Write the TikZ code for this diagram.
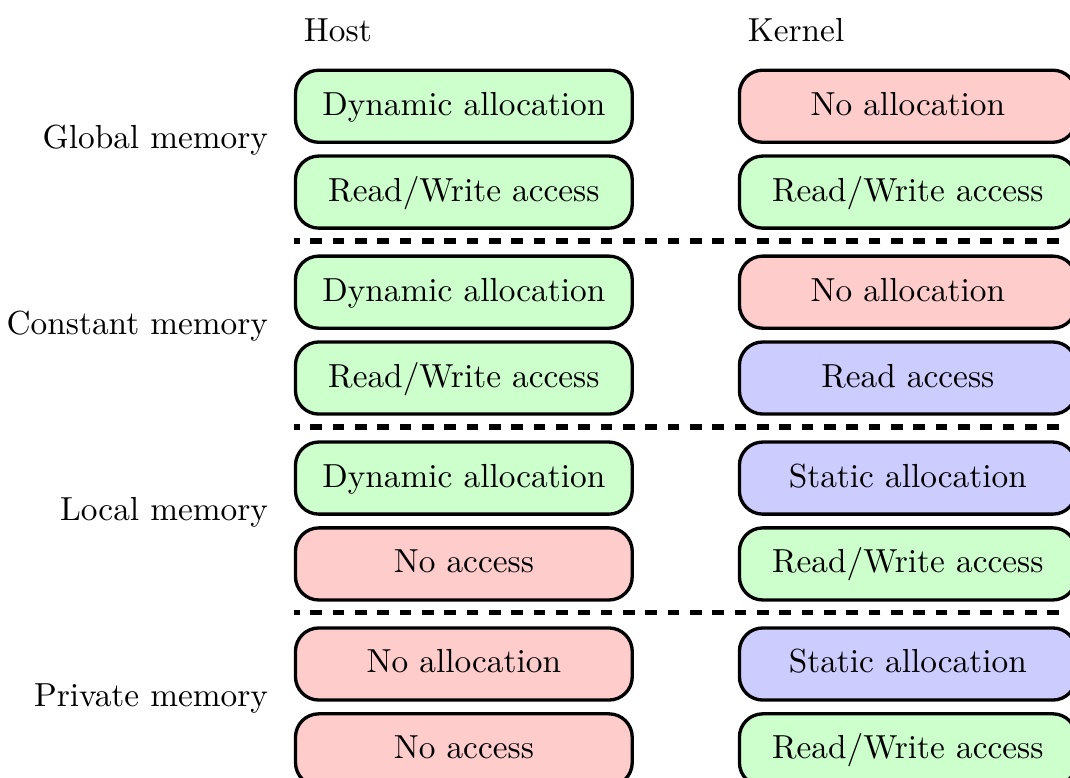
\documentclass[tikz,border=0pt]{standalone}
\usetikzlibrary{positioning}

\tikzset{
    memcell/.style={draw, line width=1pt, rounded corners=7pt, minimum width=3.55cm, minimum height=0.76cm,
        text height=1.5ex, text depth=.25ex},
    okcell/.style={memcell, fill=green!20},
    nocell/.style={memcell, fill=red!20},
    rocell/.style={memcell, fill=blue!20},
    sep/.style={ultra thick, dash pattern=on 3.5pt off 3.2pt},
}

\begin{document}
\begin{tikzpicture}
    \useasboundingbox (0,0) rectangle (11.28,-8.20);

    \node[anchor=base west] (host) at (3.08,-0.44) {Host};
    \node[anchor=base west] (kernel) at (7.76,-0.44) {Kernel};

    % global memory
    \node[anchor=east] (global) at (2.95,-1.48) {Global memory};
    \node[okcell] (h1a) at (4.89,-1.12) {Dynamic allocation};
    \node[okcell, below=0.11cm of h1a] (h1b) {Read/Write access};
    \node[nocell] (k1a) at (9.57,-1.12) {No allocation};
    \node[okcell, below=0.11cm of k1a] (k1b) {Read/Write access};

    \draw[sep] (11.40,-2.54) -- (3.10,-2.54);

    % constant memory
    \node[anchor=east] (constant) at (2.95,-3.44) {Constant memory};
    \node[okcell] (h2a) at (4.89,-3.08) {Dynamic allocation};
    \node[okcell, below=0.11cm of h2a] (h2b) {Read/Write access};
    \node[nocell] (k2a) at (9.57,-3.08) {No allocation};
    \node[rocell, below=0.11cm of k2a] (k2b) {Read access};

    \draw[sep] (11.40,-4.50) -- (3.10,-4.50);

    % local memory
    \node[anchor=east] (local) at (2.95,-5.40) {Local memory};
    \node[okcell] (h3a) at (4.89,-5.04) {Dynamic allocation};
    \node[nocell, below=0.11cm of h3a] (h3b) {No access};
    \node[rocell] (k3a) at (9.57,-5.04) {Static allocation};
    \node[okcell, below=0.11cm of k3a] (k3b) {Read/Write access};

    \draw[sep] (11.40,-6.46) -- (3.10,-6.46);

    % private memory
    \node[anchor=east] (private) at (2.95,-7.36) {Private memory};
    \node[nocell] (h4a) at (4.89,-7.00) {No allocation};
    \node[nocell, below=0.11cm of h4a] (h4b) {No access};
    \node[rocell] (k4a) at (9.57,-7.00) {Static allocation};
    \node[okcell, below=0.11cm of k4a] (k4b) {Read/Write access};
\end{tikzpicture}
\end{document}
